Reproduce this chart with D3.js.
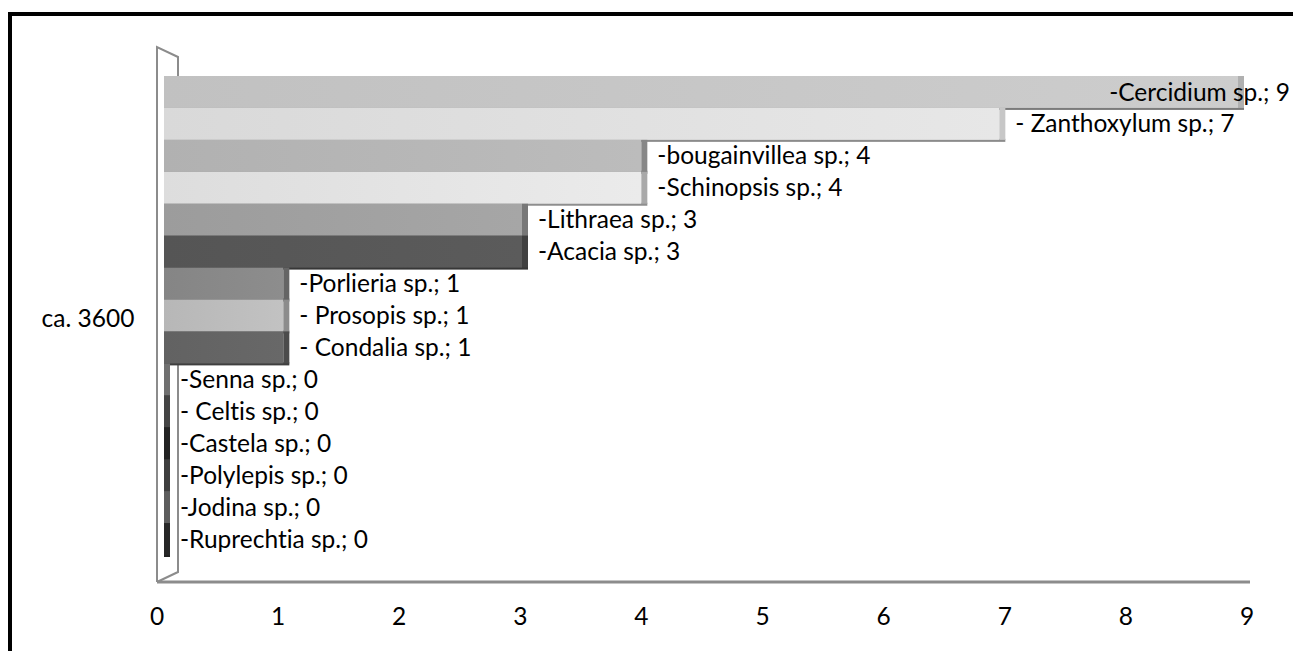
<!DOCTYPE html>
<html>
<head>
<meta charset="utf-8">
<script src="https://cdn.jsdelivr.net/npm/d3@7"></script>
<style>
  html, body { margin: 0; padding: 0; background: #fff; }
  svg { display: block; }
  text { font-family: Lato, "Open Sans", sans-serif; fill: #000; font-variant-ligatures: none; }
</style>
</head>
<body>
<svg id="chart" width="1293" height="651"></svg>
<script>
// ---- data ----
const category = "ca. 3600";
const species = ["-Cercidium sp.", "- Zanthoxylum sp.", "-bougainvillea sp.", "-Schinopsis sp.",
  "-Lithraea sp.", "-Acacia sp.", "-Porlieria sp.", "- Prosopis sp.", "- Condalia sp.",
  "-Senna sp.", "- Celtis sp.", "-Castela sp.", "-Polylepis sp.", "-Jodina sp.", "-Ruprechtia sp."];
const values = [9, 7, 4, 4, 3, 3, 1, 1, 1, 0, 0, 0, 0, 0, 0];
const tickValues = [0, 1, 2, 3, 4, 5, 6, 7, 8, 9];
const barColors = ["#c4c4c4", "#dddddd", "#b4b4b4", "#e1e1e1", "#9f9f9f", "#575757", "#878787",
  "#bababa", "#646464", "#959595", "#5a5a5a", "#2f2f2f", "#525252", "#7c7c7c", "#343434"];

const svg = d3.select("#chart");

// border
svg.append("rect").attr("x", 10).attr("y", 14).attr("width", 1300).attr("height", 660)
  .attr("fill", "none").attr("stroke", "#000").attr("stroke-width", 4);

// scales
const xAxisScale = d3.scaleLinear().domain([0, 9]).range([157, 1247]);
const xBar = d3.scaleLinear().domain([0, 9]).range([164, 1238]);
const y = d3.scaleBand().domain(species).range([76, 555]).padding(0);

// 3D wall
const wall = svg.append("g").attr("fill", "none").attr("stroke", "#8c8c8c").attr("stroke-width", 2);
wall.append("path").attr("d", "M157,582 L157,47 L178,57 L178,572 L157,582").attr("fill", "#fff");

// axis line
svg.append("line").attr("x1", 157).attr("x2", 1250).attr("y1", 582).attr("y2", 582)
  .attr("stroke", "#8c8c8c").attr("stroke-width", 3);

// gradients
const defs = svg.append("defs");
barColors.forEach((c, i) => {
  const g = defs.append("linearGradient").attr("id", "g" + i).attr("x1", "0%").attr("x2", "100%");
  g.append("stop").attr("offset", "0%").attr("stop-color", d3.color(c).darker(0.05));
  g.append("stop").attr("offset", "100%").attr("stop-color", d3.color(c).brighter(0.12));
});

// bars
const side = 6;
const bars = svg.append("g");
species.forEach((s, i) => {
  const v = values[i];
  const y0 = y(s), h = y.bandwidth();
  const x0 = xBar(0), x1 = xBar(v);
  const g = bars.append("g");
  // bottom shadow edge (covered by next bar)
  g.append("rect").attr("x", x0).attr("y", y0 + h - 1).attr("width", x1 - x0 + side).attr("height", 3)
    .attr("fill", d3.color(barColors[i]).darker(1.3));
  if (x1 > x0) {
    g.append("rect").attr("x", x0).attr("y", y0).attr("width", x1 - x0).attr("height", h)
      .attr("fill", "url(#g" + i + ")");
  }
  g.append("rect").attr("x", x1).attr("y", y0).attr("width", side).attr("height", h)
    .attr("fill", d3.color(barColors[i]).darker(v > 4 ? 0.3 : 0.8));
});

// labels
const labels = svg.append("g").attr("font-size", 24.5);
species.forEach((s, i) => {
  const v = values[i];
  const txt = s + "; " + v;
  const t = labels.append("text").attr("y", y(s) + y.bandwidth() / 2).attr("dy", "0.35em").text(txt);
  const lx = xBar(v) + 16;
  t.attr("x", lx);
  const w = t.node().getComputedTextLength();
  if (lx + w > 1290) { t.attr("x", 1290).attr("text-anchor", "end"); }
});

// category label
svg.append("text").attr("x", 88).attr("y", 318).attr("dy", "0.35em").attr("text-anchor", "middle")
  .attr("font-size", 24.5).text(category);

// tick labels
svg.append("g").selectAll("text").data(tickValues).join("text")
  .attr("x", d => xAxisScale(d)).attr("y", 616).attr("dy", "0.35em").attr("text-anchor", "middle")
  .attr("font-size", 24.5).text(d => d);
</script>
</body>
</html>
